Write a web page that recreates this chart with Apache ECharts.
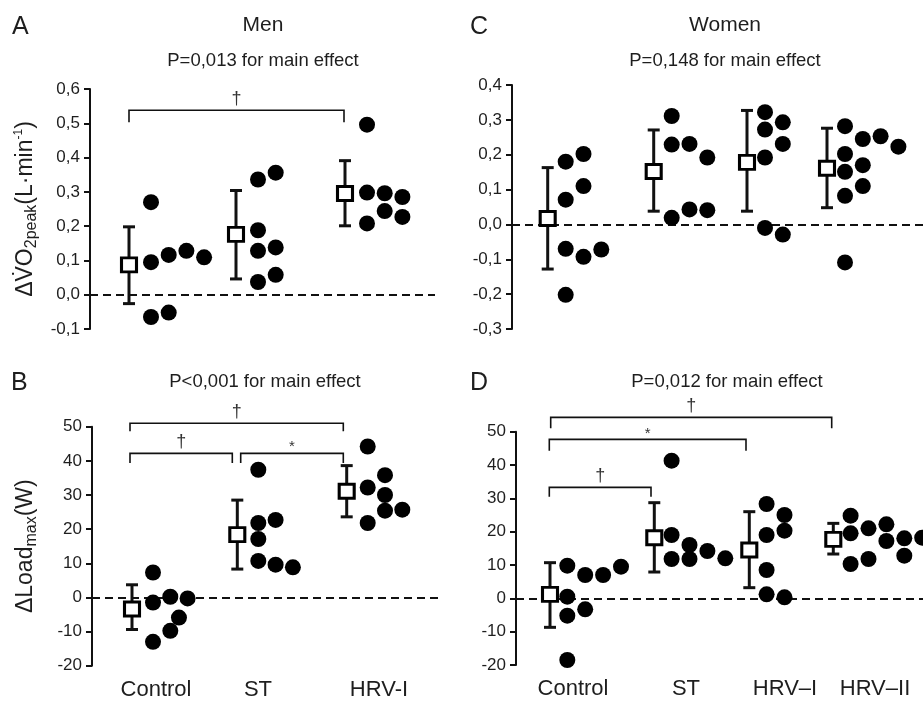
<!DOCTYPE html>
<html>
<head>
<meta charset="utf-8">
<script src="https://cdn.jsdelivr.net/npm/echarts@6/dist/echarts.min.js"></script>
<style>
  html, body { margin: 0; padding: 0; background: #fff; }
  #chart { width: 923px; height: 702px; }
</style>
</head>
<body>
<div id="chart"></div>
<script>
// ---------- data ----------
const menGroups = ['Control', 'ST', 'HRV-I'];
const womenGroups = ['Control', 'ST', 'HRV–I', 'HRV–II'];

const pTexts = ['P=0,013 for main effect', 'P=0,148 for main effect',
                'P<0,001 for main effect', 'P=0,012 for main effect'];

// ΔVO2peak (L·min-1), men: individual changes, group mean and bar limits
const vo2MenControl = [0.27, 0.095, -0.065, 0.116, -0.052, 0.128, 0.109];
const vo2MenST      = [0.336, 0.188, 0.128, 0.037, 0.356, 0.138, 0.058];
const vo2MenHRV1    = [0.496, 0.298, 0.208, 0.296, 0.244, 0.285, 0.227];
const vo2MenMean = [0.087, 0.176, 0.295];
const vo2MenLow  = [-0.026, 0.046, 0.201];
const vo2MenHigh = [0.198, 0.304, 0.391];

// ΔVO2peak (L·min-1), women
const vo2WomenControl = [0.180, 0.071, -0.070, -0.202, 0.202, 0.110, -0.093, -0.072];
const vo2WomenST      = [0.311, 0.229, 0.019, 0.231, 0.043, 0.192, 0.041];
const vo2WomenHRV1    = [0.322, 0.272, 0.192, -0.010, 0.293, 0.231, -0.029];
const vo2WomenHRV2    = [0.282, 0.202, 0.151, 0.082, -0.109, 0.245, 0.170, 0.110, 0.253, 0.223];
const vo2WomenMean = [0.017, 0.152, 0.178, 0.161];
const vo2WomenLow  = [-0.128, 0.038, 0.038, 0.048];
const vo2WomenHigh = [0.163, 0.271, 0.327, 0.276];

// ΔLoadmax (W), men
const loadMenControl = [7.3, -1.5, -13.0, 0.2, -9.8, -5.9, -0.3];
const loadMenST      = [37.4, 21.8, 17.1, 10.7, 22.7, 9.6, 8.8];
const loadMenHRV1    = [44.2, 32.2, 21.8, 35.8, 30.0, 25.4, 25.7];
const loadMenMean = [-3.4, 18.4, 31.1];
const loadMenLow  = [-9.4, 8.3, 23.6];
const loadMenHigh = [3.7, 28.5, 38.6];

// ΔLoadmax (W), women
const loadWomenControl = [9.8, 0.5, -5.2, -18.5, 7.0, -3.3, 7.0, 9.5];
const loadWomenST      = [41.3, 19.0, 11.8, 16.0, 11.8, 14.2, 12.0];
const loadWomenHRV1    = [28.3, 19.0, 8.5, 1.2, 25.0, 20.3, 0.3];
const loadWomenHRV2    = [24.8, 19.5, 10.3, 21.0, 11.8, 22.2, 17.2, 18.0, 12.8, 18.2];
const loadWomenMean = [1.2, 18.2, 14.5, 17.7];
const loadWomenLow  = [-8.7, 7.9, 3.2, 13.3];
const loadWomenHigh = [10.7, 28.7, 26.0, 22.5];

// pairwise comparisons: [from group, to group, mark]
const sigVo2Men    = [[0, 2, '†']];
const sigVo2Women  = [];
const sigLoadMen   = [[0, 2, '†'], [0, 1, '†'], [1, 2, '*']];
const sigLoadWomen = [[0, 3, '†'], [0, 2, '*'], [0, 1, '†']];

// ---------- layout ----------
// beeswarm column of each dot, counted to the right of its group's mean marker
const colsVo2Men    = [[0,0,0,1,1,2,3], [0,0,0,0,1,1,1], [0,0,0,1,1,2,2]];
const colsVo2Women  = [[0,0,0,0,1,1,1,2], [0,0,0,1,1,2,2], [0,0,0,0,1,1,1], [0,0,0,0,0,1,1,1,2,3]];
const colsLoadMen   = [[0,0,0,1,1,1.5,2], [0,0,0,0,1,1,2], [0,0,0,1,1,1,2]];
const colsLoadWomen = [[0,0,0,0,1,1,2,3], [0,0,0,1,1,2,3], [0,0,0,0,1,1,1], [0,0,0,1,1,2,2,3,3,4]];

// bracket geometry: [bar level, end level, left shift px, right shift px]
const brVo2Men    = [[0.538, 0.503, 0, -1]];
const brLoadMen   = [[51.0, 48.7, -2, -3.4], [42.2, 39.4, -2, -5], [42.2, 39.4, 3.4, -3.4]];
const brLoadWomen = [[54.3, 51.0, 0.7, -1.6], [47.7, 44.3, -0.7, -3.3], [33.3, 30.5, -0.7, -3.3]];

const FONT = 'Liberation Sans, Arial, Helvetica, sans-serif';
const INK = '#111';
const TEXT = '#1e1e1e';

const panels = [
  { // A: men, VO2peak
    grid: { left: 90, top: 89, width: 345, height: 240 },
    y: [-0.1, 0.6, 0.1, 1],
    groupX: [39, 146, 255], gap: 22, step: 17.7,
    groups: [vo2MenControl, vo2MenST, vo2MenHRV1], cols: colsVo2Men,
    mean: vo2MenMean, low: vo2MenLow, high: vo2MenHigh,
    sig: sigVo2Men, br: brVo2Men,
    cats: null,
    yName: '{t|ΔV̇O}{s|2peak}{t|(L·min}{p|-1}{t|)}', nameGap: 50
  },
  { // C: women, VO2peak
    grid: { left: 512, top: 85, width: 411, height: 244 },
    y: [-0.3, 0.4, 0.1, 1],
    groupX: [35.7, 141.7, 235, 315], gap: 18, step: 17.8,
    groups: [vo2WomenControl, vo2WomenST, vo2WomenHRV1, vo2WomenHRV2], cols: colsVo2Women,
    mean: vo2WomenMean, low: vo2WomenLow, high: vo2WomenHigh,
    sig: sigVo2Women, br: [],
    cats: null, yName: null
  },
  { // B: men, Loadmax
    grid: { left: 92, top: 426.7, width: 348, height: 239 },
    y: [-20, 50, 10, 0],
    groupX: [40, 145.3, 254.7], gap: 21, step: 17.3,
    groups: [loadMenControl, loadMenST, loadMenHRV1], cols: colsLoadMen,
    mean: loadMenMean, low: loadMenLow, high: loadMenHigh,
    sig: sigLoadMen, br: brLoadMen,
    cats: menGroups, labelX: [64, 166, 287],
    yName: '{t|ΔLoad}{s|max}{t|(W)}', nameGap: 52
  },
  { // D: women, Loadmax
    grid: { left: 516, top: 431.7, width: 407, height: 233.3 },
    y: [-20, 50, 10, 0],
    groupX: [34, 138.3, 233.3, 317.3], gap: 17.3, step: 17.9,
    groups: [loadWomenControl, loadWomenST, loadWomenHRV1, loadWomenHRV2], cols: colsLoadWomen,
    mean: loadWomenMean, low: loadWomenLow, high: loadWomenHigh,
    sig: sigLoadWomen, br: brLoadWomen,
    cats: womenGroups, labelX: [57, 170, 269, 359],
    yName: null
  }
];

const grids = [], xAxes = [], yAxes = [], series = [];

panels.forEach((p, i) => {
  grids.push(Object.assign({ containLabel: false }, p.grid));

  xAxes.push({
    gridIndex: i, type: 'value', min: 0, max: p.grid.width,
    axisLine: { show: false }, axisTick: { show: false }, splitLine: { show: false },
    axisLabel: p.cats ? {
      show: true, customValues: p.labelX, margin: 13,
      fontSize: 22, fontFamily: FONT, color: TEXT,
      formatter: v => {
        const k = p.labelX.findIndex(x => Math.abs(x - v) < 1e-6);
        return k >= 0 ? p.cats[k] : '';
      }
    } : { show: false }
  });

  const [yMin, yMax, yStep, dec] = p.y;
  yAxes.push({
    gridIndex: i, type: 'value', min: yMin, max: yMax, interval: yStep,
    axisLine: { show: true, lineStyle: { color: INK, width: 2 } },
    axisTick: { show: true, length: 6, lineStyle: { color: INK, width: 2 } },
    splitLine: { show: false },
    axisLabel: {
      fontSize: 17, fontFamily: FONT, color: TEXT, margin: 10,
      formatter: v => (Math.abs(v) < 1e-9 ? 0 : v).toFixed(dec).replace('.', ',')
    },
    name: p.yName || '',
    nameLocation: 'middle', nameGap: p.nameGap || 50, nameRotate: 90,
    nameTextStyle: {
      fontFamily: FONT, color: TEXT,
      rich: {
        t: { fontSize: 23, fontFamily: FONT, color: TEXT },
        s: { fontSize: 16, fontFamily: FONT, color: TEXT, padding: [12, 0, 0, 0] },
        p: { fontSize: 12, fontFamily: FONT, color: TEXT, padding: [0, 0, 14, 0] }
      }
    }
  });

  // error bars (+ dashed zero reference line)
  series.push({
    type: 'custom', xAxisIndex: i, yAxisIndex: i, z: 2,
    encode: { x: 0, y: [1, 2] },
    data: p.mean.map((m, g) => [p.groupX[g], p.low[g], p.high[g]]),
    renderItem(params, api) {
      const x = api.value(0);
      const a = api.coord([x, api.value(1)]);
      const b = api.coord([x, api.value(2)]);
      const cap = 6;
      const st = { stroke: INK, lineWidth: 3 };
      return {
        type: 'group', children: [
          { type: 'line', shape: { x1: a[0], y1: a[1], x2: b[0], y2: b[1] }, style: st },
          { type: 'line', shape: { x1: a[0] - cap, y1: a[1], x2: a[0] + cap, y2: a[1] }, style: st },
          { type: 'line', shape: { x1: b[0] - cap, y1: b[1], x2: b[0] + cap, y2: b[1] }, style: st }
        ]
      };
    },
    markLine: {
      silent: true, symbol: 'none', z: 1,
      label: { show: false },
      lineStyle: { color: INK, width: 2, type: [8, 5], opacity: 1 },
      data: [{ yAxis: 0 }]
    }
  });

  // individual points
  const pts = [];
  p.groups.forEach((vals, g) => {
    vals.forEach((v, k) => pts.push([p.groupX[g] + p.gap + p.cols[g][k] * p.step, v]));
  });
  series.push({
    type: 'scatter', xAxisIndex: i, yAxisIndex: i, z: 3,
    symbol: 'circle', symbolSize: 16,
    itemStyle: { color: '#000', opacity: 1 },
    data: pts
  });

  // group means
  series.push({
    type: 'scatter', xAxisIndex: i, yAxisIndex: i, z: 4,
    symbol: 'rect', symbolSize: [15, 14],
    itemStyle: { color: '#fff', borderColor: '#000', borderWidth: 3, opacity: 1 },
    data: p.mean.map((m, g) => [p.groupX[g], m])
  });

  // significance brackets
  if (p.sig.length) {
    series.push({
      type: 'custom', xAxisIndex: i, yAxisIndex: i, z: 5, clip: false,
      encode: { x: [0, 1], y: [2, 3] },
      data: p.sig.map((s, k) => [
        p.groupX[s[0]] + p.br[k][2], p.groupX[s[1]] + p.br[k][3], p.br[k][0], p.br[k][1]
      ]),
      renderItem(params, api) {
        const l = api.coord([api.value(0), api.value(2)]);
        const r = api.coord([api.value(1), api.value(2)]);
        const ld = api.coord([api.value(0), api.value(3)]);
        const mark = p.sig[params.dataIndex][2];
        const isStar = mark === '*';
        return {
          type: 'group', children: [
            { type: 'polyline',
              shape: { points: [[ld[0], ld[1]], [l[0], l[1]], [r[0], r[1]], [r[0], ld[1]]] },
              style: { stroke: INK, lineWidth: 1.6, fill: null } },
            { type: 'text',
              style: {
                text: mark, x: (l[0] + r[0]) / 2, y: l[1] - (isStar ? 6 : 11),
                align: 'center', verticalAlign: 'middle',
                font: (isStar ? '15px ' : '18px ') + FONT, fill: '#333'
              } }
          ]
        };
      }
    });
  }
});

// panel letters, headings and main-effect notes
const txt = (text, x, y, size, align) => ({
  type: 'text', x, y, silent: true,
  style: { text, font: size + 'px ' + FONT, fill: TEXT, align: align || 'center', verticalAlign: 'middle' }
});
const graphics = [
  txt('A', 12, 27, 25, 'left'), txt('Men', 263, 25, 21), txt(pTexts[0], 263, 61, 18.5),
  txt('C', 470, 27, 25, 'left'), txt('Women', 725, 25, 21), txt(pTexts[1], 725, 61, 18.5),
  txt('B', 11, 383, 25, 'left'), txt(pTexts[2], 265, 382, 18.5),
  txt('D', 470, 383, 25, 'left'), txt(pTexts[3], 727, 382, 18.5)
];

const chart = echarts.init(document.getElementById('chart'), null, { renderer: 'canvas' });
chart.setOption({
  animation: false,
  backgroundColor: '#fff',
  grid: grids, xAxis: xAxes, yAxis: yAxes,
  series,
  graphic: graphics
});
</script>
</body>
</html>
